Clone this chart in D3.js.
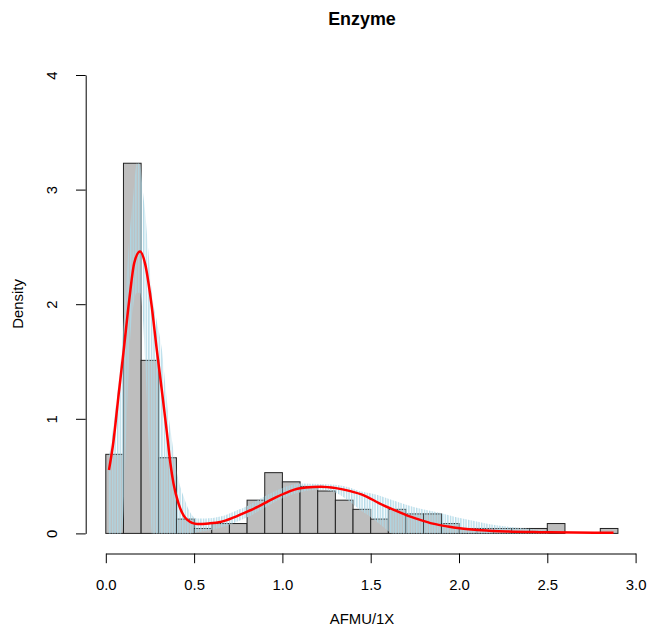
<!DOCTYPE html>
<html>
<head>
<meta charset="utf-8">
<script src="https://cdn.jsdelivr.net/npm/d3@7"></script>
<style>
  html, body { margin: 0; padding: 0; background: #fff; }
  svg { display: block; font-family: "Liberation Sans", Arial, Helvetica, sans-serif; }
</style>
</head>
<body>
<svg id="chart" width="649" height="626"></svg>
<script>
// ---- data ----
const title = "Enzyme";
const xLabel = "AFMU/1X";
const yLabel = "Density";
const xTicks = [0, 0.5, 1, 1.5, 2, 2.5, 3];
const yTicks = [0, 1, 2, 3, 4];

// histogram breaks and densities
const breaks = [0, 0.1, 0.2, 0.3, 0.4, 0.5, 0.6, 0.7, 0.8, 0.9, 1.0, 1.1, 1.2, 1.3, 1.4,
  1.5, 1.6, 1.7, 1.8, 1.9, 2.0, 2.1, 2.2, 2.3, 2.4, 2.5, 2.6, 2.7, 2.8, 2.9];
const densities = [0.69, 3.23, 1.51, 0.66, 0.125, 0.043, 0.086, 0.086, 0.29, 0.53,
  0.45, 0.41, 0.37, 0.29, 0.21, 0.125, 0.21, 0.17, 0.17, 0.086,
  0.043, 0.043, 0.043, 0.043, 0.043, 0.086, 0, 0, 0.043];

// fitted density (red)
const fitX = [0.018, 0.043, 0.071, 0.100, 0.133, 0.161, 0.194, 0.223, 0.256, 0.289, 0.318, 0.346,
  0.365, 0.384, 0.412, 0.460, 0.517, 0.583, 0.649, 0.725, 0.801, 0.876, 0.943, 1.037, 1.085,
  1.132, 1.218, 1.303, 1.379, 1.464, 1.549, 1.625, 1.701, 1.776, 1.852, 1.937, 2.004, 2.127,
  2.269, 2.458, 2.648, 2.875];
const fitY = [0.554, 0.80, 1.19, 1.58, 2.04, 2.36, 2.46, 2.35, 2.03, 1.60, 1.24, 0.88,
  0.62, 0.43, 0.26, 0.12, 0.082, 0.087, 0.10, 0.14, 0.19, 0.245, 0.30, 0.365, 0.39,
  0.40, 0.408, 0.395, 0.371, 0.33, 0.263, 0.21, 0.16, 0.12, 0.085, 0.06, 0.045, 0.028,
  0.017, 0.011, 0.008, 0.005];

// light blue band (upper / lower)
const bandX = [0.014, 0.052, 0.090, 0.119, 0.138, 0.157, 0.176, 0.194, 0.209, 0.223, 0.242,
  0.261, 0.289, 0.318, 0.337, 0.355, 0.374, 0.403, 0.441, 0.479, 0.517, 0.564, 0.649, 0.725,
  0.801, 0.895, 0.990, 1.104, 1.218, 1.322, 1.379, 1.435, 1.511, 1.568, 1.625, 1.701, 1.795,
  1.890, 1.985, 2.080, 2.174, 2.269, 2.364, 2.458, 2.506];
const bandUpper = [0.62, 1.05, 1.6, 2.27, 2.67, 2.97, 3.23, 3.22, 3.0, 2.8, 2.45,
  2.1, 1.85, 1.6, 1.3, 1.03, 0.82, 0.53, 0.32, 0.18, 0.13, 0.13, 0.147, 0.19,
  0.24, 0.32, 0.39, 0.435, 0.43, 0.42, 0.40, 0.37, 0.345, 0.32, 0.29, 0.25, 0.21,
  0.18, 0.14, 0.11, 0.08, 0.06, 0.045, 0.03, 0.02];
const bandLower = [0, 0, 0, 1.0, 1.7, 2.0, 2.1, 2.1, 1.9, 1.5, 0.8,
  0, 0, 0, 0, 0, 0, 0, 0, 0, 0.01, 0.02, 0.05, 0.09,
  0.14, 0.22, 0.3, 0.36, 0.38, 0.34, 0.28, 0.21, 0.13, 0.06, 0, 0, 0,
  0, 0, 0, 0, 0, 0, 0, 0];

// ---- drawing ----
const svg = d3.select("#chart");
const x = d3.scaleLinear().domain([0, 3]).range([105.8, 635.6]);
const y = d3.scaleLinear().domain([0, 4]).range([533.4, 75]);
const plotCenterX = 362;

const defs = svg.append("defs");
const pat = defs.append("pattern").attr("id", "vh")
  .attr("patternUnits", "userSpaceOnUse").attr("width", 2.6).attr("height", 10);
pat.append("rect").attr("x", 0).attr("y", 0).attr("width", 1.4).attr("height", 10)
  .attr("fill", "#add8e6").attr("opacity", 0.9);

// bars
const bins = densities.map((d, i) => ({x0: breaks[i], x1: breaks[i] + 0.1, d}));
svg.append("g").selectAll("rect").data(bins).join("rect")
  .attr("x", b => x(b.x0))
  .attr("y", b => y(b.d))
  .attr("width", b => x(b.x1) - x(b.x0))
  .attr("height", b => y(0) - y(b.d))
  .attr("fill", "#bebebe")
  .attr("stroke", "#222")
  .attr("stroke-width", 1);

// band
const bandData = bandX.map((v, i) => ({x: v, lo: bandLower[i], hi: bandUpper[i]}));
svg.append("path").datum(bandData)
  .attr("d", d3.area().x(d => x(d.x)).y0(d => y(d.lo)).y1(d => y(d.hi)).curve(d3.curveMonotoneX))
  .attr("fill", "url(#vh)");

// red fitted density
const fitData = fitX.map((v, i) => ({x: v, y: fitY[i]}));
svg.append("path").datum(fitData)
  .attr("d", d3.line().x(d => x(d.x)).y(d => y(d.y)).curve(d3.curveMonotoneX))
  .attr("fill", "none").attr("stroke", "#ff0000").attr("stroke-width", 2.5)
  .attr("stroke-linejoin", "round");

// x axis
const xAxis = svg.append("g").attr("transform", "translate(0,553.5)")
  .call(d3.axisBottom(x).tickValues(xTicks).tickFormat(d3.format(".1f")).tickSize(9.7).tickSizeOuter(0));
xAxis.select(".domain").attr("stroke", "#000");
xAxis.selectAll(".tick line").attr("stroke", "#000");
xAxis.selectAll(".tick text").attr("y", 36.3).attr("dy", 0)
  .attr("font-size", 14.9).attr("fill", "#000").attr("font-family", null);

// y axis
const yAxis = svg.append("g").attr("transform", "translate(85.7,0)")
  .call(d3.axisLeft(y).tickValues(yTicks).tickFormat(d3.format("d")).tickSize(9.7).tickSizeOuter(0));
yAxis.select(".domain").attr("stroke", "#000");
yAxis.selectAll(".tick line").attr("stroke", "#000");
yAxis.selectAll(".tick text")
  .attr("transform", "rotate(-90)")
  .attr("x", 0).attr("y", -28.4).attr("dy", 0)
  .attr("text-anchor", "middle")
  .attr("font-size", 14.9).attr("fill", "#000").attr("font-family", null);

// labels
svg.append("text").attr("x", plotCenterX).attr("y", 24.5).attr("text-anchor", "middle")
  .attr("font-size", 17.9).attr("font-weight", "bold").text(title);
svg.append("text").attr("x", plotCenterX).attr("y", 623.5).attr("text-anchor", "middle")
  .attr("font-size", 14.9).text(xLabel);
svg.append("text").attr("transform", "translate(23.3,304) rotate(-90)")
  .attr("text-anchor", "middle").attr("font-size", 14.9).text(yLabel);
</script>
</body>
</html>
